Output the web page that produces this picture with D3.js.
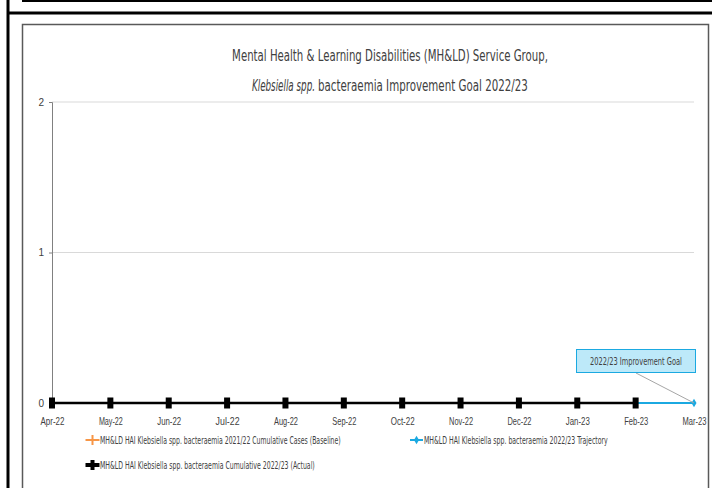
<!DOCTYPE html>
<html>
<head>
<meta charset="utf-8">
<script src="https://cdn.jsdelivr.net/npm/d3@7"></script>
<style>
  body { margin: 0; background: #fff; }
  svg { display: block; font-family: "DejaVu Sans Condensed", "Liberation Sans Narrow", sans-serif; }
</style>
</head>
<body>
<div id="vis"></div>
<script>
// data
const months = ["Apr-22", "May-22", "Jun-22", "Jul-22", "Aug-22", "Sep-22",
  "Oct-22", "Nov-22", "Dec-22", "Jan-23", "Feb-23", "Mar-23"];
const baseline = [0, 0, 0, 0, 0, 0, 0, 0, 0, 0, 0, 0];
const trajectory = [0, 0, 0, 0, 0, 0, 0, 0, 0, 0, 0, 0];
const actual = [0, 0, 0, 0, 0, 0, 0, 0, 0, 0, 0];
const yTicks = [0, 1, 2];

const W = 712, H = 488;
const svg = d3.select('#vis').append('svg')
  .attr('width', W).attr('height', H);

// squeeze a text horizontally so it spans `len` pixels (the source font is very narrow)
function squeeze(sel, len) {
  sel.each(function (d) {
    const t = d3.select(this);
    const target = typeof len === 'function' ? len(d) : len;
    const natural = this.getComputedTextLength();
    const x0 = +t.attr('x') || 0;
    const y0 = +t.attr('y') || 0;
    t.attr('x', 0).attr('y', 0)
      .attr('transform', `translate(${x0},${y0}) scale(${target / natural},1)`);
  });
}

// outer frame pieces
svg.append('line').attr('x1', 22).attr('x2', W).attr('y1', 1).attr('y2', 1)
  .attr('stroke', '#000').attr('stroke-width', 2);
svg.append('line').attr('x1', 8).attr('x2', 8).attr('y1', 0).attr('y2', H)
  .attr('stroke', '#000').attr('stroke-width', 3);
svg.append('line').attr('x1', 7).attr('x2', W).attr('y1', 13).attr('y2', 13)
  .attr('stroke', '#000').attr('stroke-width', 3);
svg.append('rect').attr('x', 22.5).attr('y', 24.5).attr('width', 686).attr('height', 480)
  .attr('fill', 'none').attr('stroke', '#595959').attr('stroke-width', 1.5);

// title
const title = svg.append('g').attr('fill', '#404040').attr('font-size', 15.5);
title.append('text').attr('x', 390).attr('y', 61).attr('text-anchor', 'middle')
  .text('Mental Health & Learning Disabilities (MH&LD) Service Group,')
  .call(squeeze, 316);
title.append('text').attr('x', 252).attr('y', 91).attr('font-style', 'italic')
  .text('Klebsiella spp.')
  .call(squeeze, 63);
title.append('text').attr('x', 318).attr('y', 91)
  .text('bacteraemia Improvement Goal 2022/23')
  .call(squeeze, 210);

// scales
const x = d3.scalePoint().domain(months).range([52, 694]);
const y = d3.scaleLinear().domain([0, 2]).range([403, 102]);

// gridlines
svg.append('g').selectAll('line').data(yTicks.filter(d => d > 0)).join('line')
  .attr('x1', 52).attr('x2', 694)
  .attr('y1', d => y(d)).attr('y2', d => y(d))
  .attr('stroke', '#d9d9d9').attr('stroke-width', 1);

// y axis
const yAxis = svg.append('g').attr('transform', 'translate(52,0)')
  .call(d3.axisLeft(y).tickValues(yTicks).tickSize(3).tickPadding(5).tickFormat(d3.format('d')));
yAxis.select('.domain').attr('stroke', '#808080');
yAxis.selectAll('.tick line').attr('stroke', '#808080');
yAxis.selectAll('text').attr('font-size', 10).attr('fill', '#404040')
  .attr('font-family', 'inherit');

// x axis
const xAxis = svg.append('g').attr('transform', 'translate(0,403)')
  .call(d3.axisBottom(x).tickSize(0).tickPadding(15));
xAxis.select('.domain').attr('stroke', '#808080');
xAxis.selectAll('text').attr('font-size', 10).attr('fill', '#404040')
  .attr('font-family', 'inherit');
xAxis.selectAll('text').each(function () {
  const t = d3.select(this);
  const k = 24 / this.getComputedTextLength();
  t.attr('transform', `scale(${k},1)`);
});

const line = d3.line().x((d, i) => x(months[i])).y(d => y(d));
const plusPath = 'M-7,0H7M0,-5V5';

// baseline (orange)
svg.append('path').datum(baseline).attr('d', line)
  .attr('fill', 'none').attr('stroke', '#F79646').attr('stroke-width', 2);

// trajectory (cyan)
svg.append('path').datum(trajectory).attr('d', line)
  .attr('fill', 'none').attr('stroke', '#1BA9E1').attr('stroke-width', 2);
svg.append('g').selectAll('path').data(trajectory).join('path')
  .attr('transform', (d, i) => `translate(${x(months[i])},${y(d)})`)
  .attr('d', d3.symbol(d3.symbolDiamond, 22))
  .attr('fill', '#1BA9E1');

// actual (black)
svg.append('path').datum(actual).attr('d', line)
  .attr('fill', 'none').attr('stroke', '#000').attr('stroke-width', 2.5);
svg.append('g').selectAll('rect').data(actual).join('rect')
  .attr('x', (d, i) => x(months[i]) - 3).attr('y', d => y(d) - 5.5)
  .attr('width', 6).attr('height', 11).attr('fill', '#000');

// goal callout
const goalX = x(months[11]), goalY = y(trajectory[11]);
svg.append('line').attr('x1', 636).attr('y1', 373).attr('x2', goalX).attr('y2', goalY)
  .attr('stroke', '#a6a6a6').attr('stroke-width', 1);
svg.append('rect').attr('x', 576.5).attr('y', 349.5).attr('width', 119).attr('height', 23)
  .attr('fill', '#BDE9F9').attr('stroke', '#1BA9E1').attr('stroke-width', 1);
svg.append('text').attr('x', 636).attr('y', 365).attr('text-anchor', 'middle')
  .attr('font-size', 10.5).attr('fill', '#404040')
  .text('2022/23 Improvement Goal')
  .call(squeeze, 92);

// legend
const legend = [
  { label: 'MH&LD HAI Klebsiella spp. bacteraemia 2021/22 Cumulative Cases (Baseline)', color: '#F79646', kind: 'plus', x: 86, y: 440, len: 241 },
  { label: 'MH&LD HAI Klebsiella spp. bacteraemia 2022/23 Trajectory', color: '#1BA9E1', kind: 'diamond', x: 410, y: 440, len: 184 },
  { label: 'MH&LD HAI Klebsiella spp. bacteraemia Cumulative 2022/23 (Actual)', color: '#000', kind: 'plus', x: 86, y: 465, len: 215 }
];
const lg = svg.append('g').selectAll('g').data(legend).join('g')
  .attr('transform', d => `translate(${d.x},${d.y})`);
lg.append('line').attr('x1', 0).attr('x2', 13)
  .attr('stroke', d => d.color).attr('stroke-width', d => d.color === '#000' ? 3 : 2);
lg.filter(d => d.kind === 'plus').append('path')
  .attr('transform', 'translate(6.5,0)')
  .attr('d', plusPath)
  .attr('stroke', d => d.color).attr('stroke-width', d => d.color === '#000' ? 4 : 2);
lg.filter(d => d.kind === 'diamond').append('path')
  .attr('transform', 'translate(6.5,0)')
  .attr('d', d3.symbol(d3.symbolDiamond, 22))
  .attr('fill', d => d.color);
lg.append('text').attr('x', 14).attr('y', 3.5)
  .attr('font-size', 10.5).attr('fill', '#404040')
  .text(d => d.label)
  .call(squeeze, d => d.len);
</script>
</body>
</html>
